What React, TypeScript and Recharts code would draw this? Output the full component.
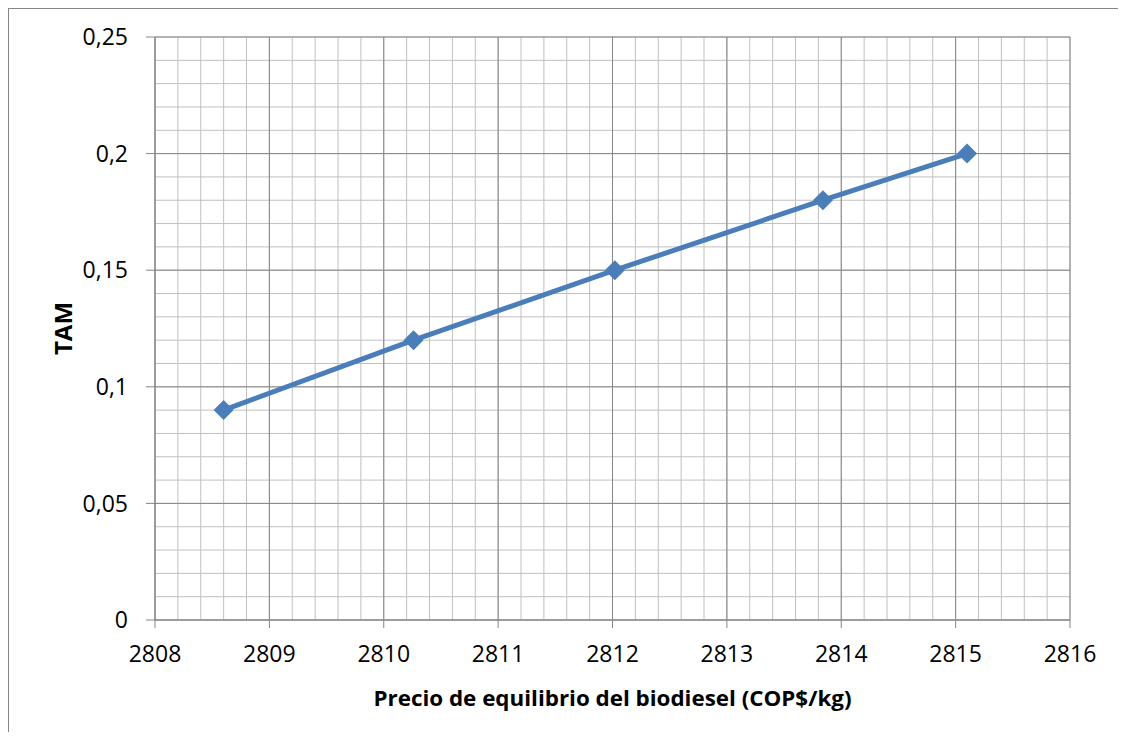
import React from "react"
import {
  LineChart,
  Line,
  XAxis,
  YAxis,
  CartesianGrid,
  Label,
} from "recharts"

// valores
const precio = [2808.6, 2810.26, 2812.02, 2813.84, 2815.1]
const tam = [0.09, 0.12, 0.15, 0.18, 0.2]

const ticksX = [2808, 2809, 2810, 2811, 2812, 2813, 2814, 2815, 2816]
const ticksY = [0, 0.05, 0.1, 0.15, 0.2, 0.25]
const etiquetasY = ["0", "0,05", "0,1", "0,15", "0,2", "0,25"]

// líneas secundarias de la cuadrícula (5 divisiones por intervalo)
const menoresX = Array.from({ length: 41 }, (_, i) => 2808 + i * 0.2)
const menoresY = Array.from({ length: 26 }, (_, i) => i * 0.01)

const datos = precio.map((p, i) => ({ precio: p, tam: tam[i] }))

const azul = "#4a7ebb"
const grisFuerte = "#868686"
const grisSuave = "#c0c0c0"
const fuente = "'Open Sans', sans-serif"

function Rombo(props: any) {
  const { cx, cy } = props
  if (cx == null || cy == null) return null
  const r = 10
  return (
    <polygon
      points={`${cx},${cy - r} ${cx + r},${cy} ${cx},${cy + r} ${cx - r},${cy}`}
      fill={azul}
    />
  )
}

function TituloX(props: any) {
  const { viewBox } = props
  const cx = viewBox.x + viewBox.width / 2
  return (
    <text
      x={cx}
      y={viewBox.y + 77}
      textAnchor="middle"
      dominantBaseline="central"
      fontFamily={fuente}
      fontWeight="bold"
      fontSize={22}
      fill="#000"
      textLength={478}
      lengthAdjust="spacingAndGlyphs"
    >
      Precio de equilibrio del biodiesel (COP$/kg)
    </text>
  )
}

function TituloY(props: any) {
  const { viewBox } = props
  const cy = viewBox.y + viewBox.height / 2
  const cx = 53
  return (
    <text
      x={cx}
      y={cy}
      textAnchor="middle"
      dominantBaseline="central"
      fontFamily={fuente}
      fontWeight="bold"
      fontSize={24}
      fill="#000"
      transform={`rotate(-90 ${cx} ${cy})`}
    >
      TAM
    </text>
  )
}

export default function App() {
  return (
    <div style={{ width: 1118, height: 724, overflow: "hidden" }}>
      <div
        style={{
          width: 1118,
          height: 740,
          boxSizing: "border-box",
          border: `1px solid ${grisFuerte}`,
          background: "#fff",
        }}
      >
        <LineChart
          width={1116}
          height={720}
          data={datos}
          margin={{ top: 28, right: 55, bottom: 49, left: 0 }}
        >
          <CartesianGrid
            stroke={grisSuave}
            strokeWidth={1}
            horizontalValues={menoresY}
            verticalValues={menoresX}
          />
          <CartesianGrid
            stroke={grisFuerte}
            strokeWidth={1}
            horizontalValues={ticksY}
            verticalValues={ticksX}
          />
          <XAxis
            dataKey="precio"
            type="number"
            domain={[2808, 2816]}
            ticks={ticksX}
            interval={0}
            height={60}
            stroke={grisFuerte}
            tickSize={8}
            tickMargin={18}
            tick={{ fill: "#000", fontSize: 23, fontFamily: fuente }}
          >
            <Label content={<TituloX />} />
          </XAxis>
          <YAxis
            type="number"
            domain={[0, 0.25]}
            ticks={ticksY}
            interval={0}
            width={146}
            stroke={grisFuerte}
            tickSize={9}
            tickMargin={18}
            tickFormatter={(v: number) => etiquetasY[ticksY.indexOf(v)] ?? String(v)}
            tick={{ fill: "#000", fontSize: 23, fontFamily: fuente }}
          >
            <Label content={<TituloY />} />
          </YAxis>
          <Line
            dataKey="tam"
            stroke={azul}
            strokeWidth={5}
            dot={<Rombo />}
            activeDot={false}
            isAnimationActive={false}
          />
        </LineChart>
      </div>
    </div>
  )
}
